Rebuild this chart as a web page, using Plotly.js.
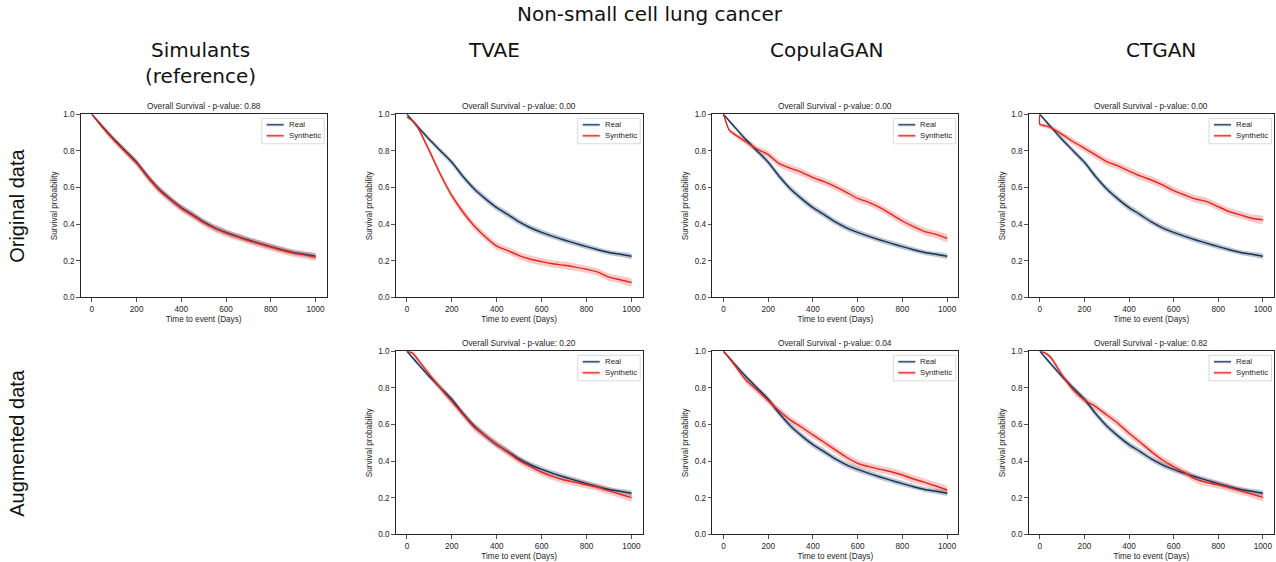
<!DOCTYPE html>
<html>
<head>
<meta charset="utf-8">
<script src="https://cdn.plot.ly/plotly-3.0.1.min.js"></script>
<style>
  html, body { margin: 0; padding: 0; background: #ffffff; }
  #chart { width: 1276px; height: 562px; }
</style>
</head>
<body>
<div id="chart"></div>
<script>
// ---------------- data ----------------
const days = [0, 25, 50, 100, 150, 200, 250, 300, 350, 400, 450, 500, 550, 600, 650, 700, 750, 800, 850, 900, 950, 1000];

const realSurv = [1.0, 0.965, 0.93, 0.862, 0.80, 0.738, 0.66, 0.592, 0.538, 0.49, 0.452, 0.412, 0.38, 0.355, 0.333, 0.313, 0.295, 0.277, 0.26, 0.245, 0.235, 0.224];
const realCI   = [0.0, 0.008, 0.011, 0.014, 0.015, 0.016, 0.017, 0.017, 0.017, 0.017, 0.017, 0.016, 0.016, 0.016, 0.015, 0.015, 0.015, 0.015, 0.014, 0.014, 0.014, 0.014];

const simulantsSyn  = [1.0, 0.962, 0.925, 0.857, 0.795, 0.733, 0.656, 0.587, 0.534, 0.486, 0.448, 0.408, 0.376, 0.351, 0.33, 0.31, 0.292, 0.274, 0.257, 0.242, 0.232, 0.22];
const tvaeOrigSyn   = [0.985, 0.965, 0.925, 0.80, 0.67, 0.555, 0.465, 0.39, 0.33, 0.28, 0.255, 0.228, 0.208, 0.195, 0.183, 0.175, 0.165, 0.153, 0.138, 0.11, 0.096, 0.08];
const copulaOrigSyn = [1.0, 0.915, 0.89, 0.85, 0.81, 0.78, 0.73, 0.705, 0.683, 0.654, 0.632, 0.605, 0.574, 0.54, 0.519, 0.49, 0.454, 0.417, 0.386, 0.359, 0.344, 0.322];
const ctganOrigDays = [0, 0, 25, 50, 100, 150, 200, 250, 300, 350, 400, 450, 500, 550, 600, 650, 700, 750, 800, 850, 900, 950, 1000];
const ctganOrigSyn  = [1.0, 0.945, 0.937, 0.927, 0.89, 0.85, 0.814, 0.778, 0.741, 0.718, 0.69, 0.663, 0.641, 0.614, 0.583, 0.559, 0.537, 0.523, 0.495, 0.468, 0.45, 0.432, 0.423];
const tvaeAugSyn    = [1.0, 0.99, 0.953, 0.874, 0.798, 0.725, 0.655, 0.585, 0.537, 0.492, 0.448, 0.403, 0.37, 0.339, 0.315, 0.297, 0.284, 0.27, 0.257, 0.237, 0.219, 0.2];
const copulaAugSyn  = [1.0, 0.965, 0.925, 0.843, 0.788, 0.73, 0.674, 0.624, 0.585, 0.543, 0.503, 0.461, 0.421, 0.388, 0.37, 0.355, 0.342, 0.324, 0.302, 0.284, 0.264, 0.242];
const ctganAugSyn   = [1.0, 0.99, 0.965, 0.87, 0.788, 0.734, 0.698, 0.652, 0.607, 0.552, 0.503, 0.452, 0.406, 0.37, 0.337, 0.301, 0.282, 0.27, 0.255, 0.237, 0.22, 0.202];

const synCI      = [0.0, 0.01, 0.013, 0.016, 0.018, 0.019, 0.02, 0.02, 0.02, 0.02, 0.02, 0.02, 0.02, 0.02, 0.02, 0.02, 0.02, 0.02, 0.02, 0.02, 0.02, 0.02];
const ctganOrigCI = [0.0, 0.012, 0.012, 0.013, 0.016, 0.018, 0.019, 0.02, 0.02, 0.02, 0.02, 0.02, 0.02, 0.02, 0.02, 0.02, 0.02, 0.02, 0.02, 0.02, 0.02, 0.02, 0.02];

const pValues      = ['0.88', '0.00', '0.00', '0.00', '0.20', '0.04', '0.82'];
const columnTitles = ['Simulants<br>(reference)', 'TVAE', 'CopulaGAN', 'CTGAN'];
const rowTitles    = ['Original data', 'Augmented data'];
const seriesNames  = ['Real', 'Synthetic'];
const figureTitle  = 'Non-small cell lung cancer';
const xTicks = [0, 200, 400, 600, 800, 1000];

// ---------------- layout / style ----------------
const W = 1276, H = 562;
const colPx = [[80.7, 326.7], [395.7, 642.7], [712.3, 958.3], [1028.7, 1274]];
const rowPx = [[114.3, 297.3], [351.3, 534.3]];
const colTitleX = [200, 494, 827, 1161];

const REAL = '#15335a', REAL_BAND = 'rgba(21,51,90,0.28)';
const SYN = '#e3261f', SYN_BAND = 'rgba(227,38,31,0.25)';
const AX = '#262626';
const SMALL = 'Liberation Sans, Arial, sans-serif';
const BIG = 'DejaVu Sans, Verdana, sans-serif';
const LINESHAPE = { shape: 'spline', smoothing: 0.6 };

const panels = [
  { row: 0, col: 0, sx: days, syn: simulantsSyn, ci: synCI },
  { row: 0, col: 1, sx: days, syn: tvaeOrigSyn, ci: synCI },
  { row: 0, col: 2, sx: days, syn: copulaOrigSyn, ci: synCI },
  { row: 0, col: 3, sx: ctganOrigDays, syn: ctganOrigSyn, ci: ctganOrigCI },
  { row: 1, col: 1, sx: days, syn: tvaeAugSyn, ci: synCI },
  { row: 1, col: 2, sx: days, syn: copulaAugSyn, ci: synCI },
  { row: 1, col: 3, sx: days, syn: ctganAugSyn, ci: synCI }
];

function band(x, y, ci, color, xa, ya) {
  const up = y.map((v, i) => Math.min(1, v + ci[i]));
  const lo = y.map((v, i) => Math.max(0, v - ci[i]));
  return {
    x: x.concat(x.slice().reverse()),
    y: up.concat(lo.slice().reverse()),
    type: 'scatter', mode: 'lines', fill: 'toself', fillcolor: color,
    line: Object.assign({ width: 0, color: color }, LINESHAPE), hoverinfo: 'skip', showlegend: false,
    xaxis: xa, yaxis: ya
  };
}

const traces = [];
const layout = {
  width: W, height: H,
  margin: { l: 0, r: 0, t: 0, b: 0 },
  paper_bgcolor: '#ffffff', plot_bgcolor: '#ffffff',
  showlegend: false,
  annotations: [], shapes: [], font: { family: SMALL, color: AX }
};

panels.forEach((p, k) => {
  const s = k === 0 ? '' : String(k + 1);
  const xa = 'x' + s, ya = 'y' + s;
  traces.push(band(days, realSurv, realCI, REAL_BAND, xa, ya));
  traces.push(band(p.sx, p.syn, p.ci, SYN_BAND, xa, ya));
  traces.push({ x: days, y: realSurv, type: 'scatter', mode: 'lines', name: seriesNames[0],
    line: Object.assign({ color: REAL, width: 1.4 }, LINESHAPE), xaxis: xa, yaxis: ya });
  traces.push({ x: p.sx, y: p.syn, type: 'scatter', mode: 'lines', name: seriesNames[1],
    line: Object.assign({ color: SYN, width: 1.4 }, LINESHAPE), xaxis: xa, yaxis: ya });

  const cx = colPx[p.col], ry = rowPx[p.row];
  const pw = cx[1] - cx[0], ph = ry[1] - ry[0];
  const xd = [cx[0] / W, cx[1] / W];
  const yd = [1 - ry[1] / H, 1 - ry[0] / H];
  const common = {
    showline: true, linecolor: AX, linewidth: 1, mirror: true,
    ticks: 'outside', ticklen: 3.5, tickwidth: 0.8, tickcolor: AX,
    showgrid: false, zeroline: false,
    tickfont: { family: SMALL, size: 8.2, color: AX }
  };
  layout['xaxis' + s] = Object.assign({}, common, {
    domain: xd, anchor: ya, range: [-50, 1050], tickvals: xTicks,
    title: { text: 'Time to event (Days)', font: { family: SMALL, size: 8.2, color: AX }, standoff: 3 }
  });
  layout['yaxis' + s] = Object.assign({}, common, {
    domain: yd, anchor: xa, range: [0, 1], dtick: 0.2, tick0: 0, tickformat: '.1f',
    title: { text: 'Survival probability', font: { family: SMALL, size: 8.2, color: AX }, standoff: 4 }
  });

  // subplot title
  layout.annotations.push({
    xref: xa + ' domain', yref: ya + ' domain', x: 0.5, y: 1, yanchor: 'bottom', xanchor: 'center',
    yshift: 1, showarrow: false, text: 'Overall Survival - p-value: ' + pValues[k],
    font: { family: SMALL, size: 8.3, color: AX }
  });

  // compact legend box (matplotlib style), drawn in axis-domain coordinates
  const fx = px => 1 - px / pw, fy = py => 1 - py / ph;
  layout.shapes.push({
    type: 'rect', xref: xa + ' domain', yref: ya + ' domain',
    x0: fx(65), x1: fx(2.5), y0: fy(29.5), y1: fy(4),
    line: { color: '#d9d9d9', width: 1 }, fillcolor: 'rgba(255,255,255,0.85)', layer: 'above'
  });
  const legendColors = [REAL, SYN];
  const legendBands = ['rgba(21,51,90,0.15)', 'rgba(227,38,31,0.2)'];
  [10.5, 21.5].forEach((py, j) => {
    layout.shapes.push({
      type: 'line', xref: xa + ' domain', yref: ya + ' domain',
      x0: fx(60), x1: fx(43), y0: fy(py), y1: fy(py),
      line: { color: legendBands[j], width: 3.5 }, layer: 'above'
    });
    layout.shapes.push({
      type: 'line', xref: xa + ' domain', yref: ya + ' domain',
      x0: fx(60), x1: fx(43), y0: fy(py), y1: fy(py),
      line: { color: legendColors[j], width: 1.2 }, layer: 'above'
    });
    layout.annotations.push({
      xref: xa + ' domain', yref: ya + ' domain', x: fx(39), y: fy(py),
      xanchor: 'left', yanchor: 'middle', showarrow: false, text: seriesNames[j],
      borderpad: 0, font: { family: SMALL, size: 7.8, color: AX }
    });
  });
});

// figure title
layout.annotations.push({
  xref: 'paper', yref: 'paper', x: 650 / W, y: 1 - 14 / H, xanchor: 'center', yanchor: 'middle',
  showarrow: false, text: figureTitle, font: { family: BIG, size: 20, color: '#111111' }
});
// column titles
columnTitles.forEach((t, i) => {
  const cy = i === 0 ? 62.5 : 50;
  layout.annotations.push({
    xref: 'paper', yref: 'paper', x: colTitleX[i] / W, y: 1 - cy / H, xanchor: 'center', yanchor: 'middle',
    showarrow: false, text: t, font: { family: BIG, size: 20, color: '#111111' }
  });
});
// row titles
rowTitles.forEach((t, i) => {
  const cy = (rowPx[i][0] + rowPx[i][1]) / 2;
  layout.annotations.push({
    xref: 'paper', yref: 'paper', x: 17 / W, y: 1 - cy / H, xanchor: 'center', yanchor: 'middle',
    textangle: -90, showarrow: false, text: t, font: { family: SMALL, size: 20, color: '#111111' }
  });
});

Plotly.newPlot('chart', traces, layout, { displayModeBar: false, staticPlot: true });
</script>
</body>
</html>
